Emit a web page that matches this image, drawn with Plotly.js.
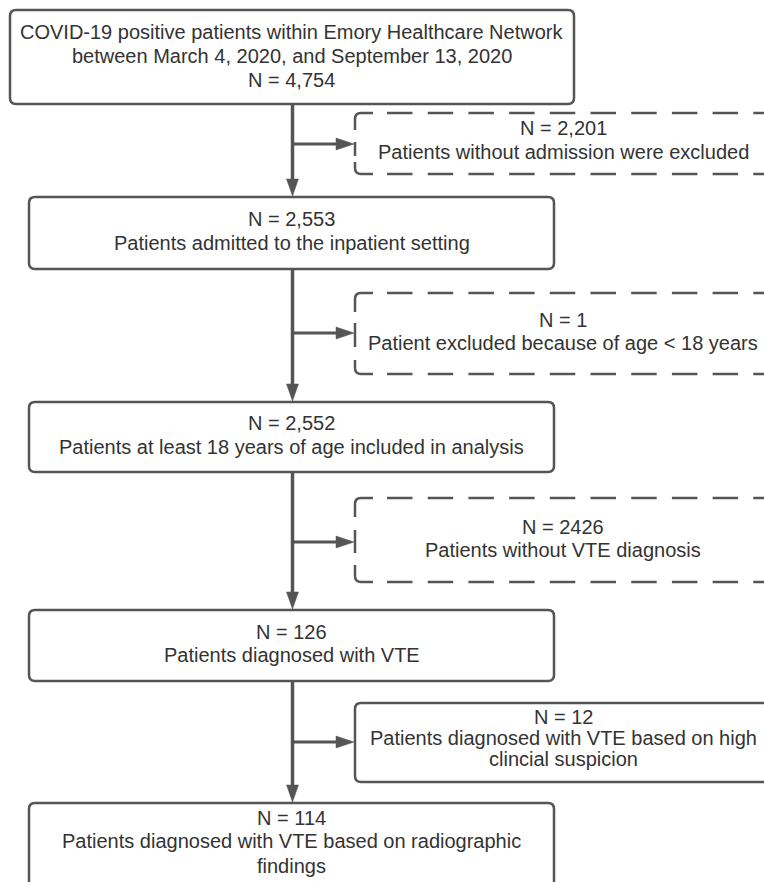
<!DOCTYPE html>
<html>
<head>
<meta charset="utf-8">
<script src="https://cdn.plot.ly/plotly-3.0.1.min.js"></script>
<style>
  html, body { margin: 0; padding: 0; background: #ffffff; }
  #chart { width: 764px; height: 882px; }
</style>
</head>
<body>
<div id="chart"></div>
<script>
// ---- Flowchart content (text of each box, top to bottom) ----
const mainBoxLines = [
  ["COVID-19 positive patients within Emory Healthcare Network",
   "between March 4, 2020, and September 13, 2020",
   "N = 4,754"],
  ["N = 2,553", "Patients admitted to the inpatient setting"],
  ["N = 2,552", "Patients at least 18 years of age included in analysis"],
  ["N = 126", "Patients diagnosed with VTE"],
  ["N = 114", "Patients diagnosed with VTE based on radiographic", "findings"]
];
const sideBoxLines = [
  ["N = 2,201", "Patients without admission were excluded"],
  ["N = 1", "Patient excluded because of age < 18 years"],
  ["N = 2426", "Patients without VTE diagnosis"],
  ["N = 12", "Patients diagnosed with VTE based on high", "clincial suspicion"]
];

// ---- Layout geometry (pixel space) ----
const W = 764, H = 882;
const LINE = "#555555", TEXT = "#333333";
const FONT = "Liberation Sans, Arial, Helvetica, sans-serif";
const spineX = 292.5;
const mainGeom = [
  {x0: 10, x1: 574, y0: 10,  y1: 104, lineY: [32, 56, 80]},
  {x0: 29, x1: 554, y0: 197, y1: 269, lineY: [219, 243]},
  {x0: 29, x1: 554, y0: 402, y1: 472, lineY: [423, 447]},
  {x0: 29, x1: 554, y0: 610, y1: 681, lineY: [632, 655]},
  {x0: 29, x1: 554, y0: 803, y1: 910, lineY: [818, 841, 866]}
];
const sideX0 = 355, sideX1 = 771, sideTextX = 563;
const sideGeom = [
  {y0: 113, y1: 174, arrowY: 144, dashed: true,  lineY: [128, 152], left: [[113, 130], [142, 156], [162, 174]]},
  {y0: 293, y1: 374, arrowY: 333, dashed: true,  lineY: [320, 343], left: [[293, 312], [323, 347], [360, 374]]},
  {y0: 498, y1: 582, arrowY: 542, dashed: true,  lineY: [527, 550], left: [[498, 517], [530, 553], [565, 582]]},
  {y0: 703, y1: 782, arrowY: 742, dashed: false, lineY: [717, 738, 759]}
];

function rr(x0, y0, x1, y1, r) {
  return `M ${x0 + r},${y0} L ${x1 - r},${y0} Q ${x1},${y0} ${x1},${y0 + r} ` +
         `L ${x1},${y1 - r} Q ${x1},${y1} ${x1 - r},${y1} L ${x0 + r},${y1} ` +
         `Q ${x0},${y1} ${x0},${y1 - r} L ${x0},${y0 + r} Q ${x0},${y0} ${x0 + r},${y0} Z`;
}

const shapes = [];
const annotations = [];
const R = 6;

function addPath(path, width, fill, dash) {
  const s = {type: "path", xref: "x", yref: "y", path: path,
             line: {color: LINE, width: width, dash: dash || "solid"}};
  if (fill) { s.fillcolor = fill; }
  shapes.push(s);
}
function addLine(x0, y0, x1, y1, width, dash) {
  shapes.push({type: "line", xref: "x", yref: "y", x0: x0, y0: y0, x1: x1, y1: y1,
               line: {color: LINE, width: width, dash: dash || "solid"}});
}
function addText(x, y, t) {
  annotations.push({x: x, y: y, xref: "x", yref: "y", text: t, showarrow: false,
                    xanchor: "center", yanchor: "middle",
                    font: {family: FONT, size: 20, color: TEXT}});
}

// main boxes
mainGeom.forEach((g, i) => {
  addPath(rr(g.x0, g.y0, g.x1, g.y1, R), 2.5, "rgba(0,0,0,0)");
  const cx = (g.x0 + g.x1) / 2 + (i === 0 ? -0.5 : 0);
  mainBoxLines[i].forEach((t, k) => addText(cx, g.lineY[k], t));
});

// spine with down arrows
for (let i = 0; i < mainGeom.length - 1; i++) {
  const tip = mainGeom[i + 1].y0 - 1;
  addLine(spineX, mainGeom[i].y1, spineX, tip - 10, 3.5);
  addPath(`M ${spineX - 6},${tip - 17} L ${spineX + 6},${tip - 17} L ${spineX},${tip} Z`, 0.5, LINE);
}

// side boxes with right arrows
sideGeom.forEach((g, i) => {
  const tip = sideX0 - 1;
  addLine(spineX, g.arrowY, tip - 10, g.arrowY, 3);
  addPath(`M ${tip - 18},${g.arrowY - 6} L ${tip - 18},${g.arrowY + 6} L ${tip},${g.arrowY} Z`, 0.5, LINE);
  if (g.dashed) {
    const dash = "25.5px,15.2px";
    addLine(387, g.y0, sideX1, g.y0, 2.5, dash);
    addLine(387, g.y1, sideX1, g.y1, 2.5, dash);
    const [a, b, c] = g.left;
    addPath(`M 373,${g.y0} L ${sideX0 + R},${g.y0} Q ${sideX0},${g.y0} ${sideX0},${g.y0 + R} L ${sideX0},${a[1]}`, 2.5);
    addLine(sideX0, b[0], sideX0, b[1], 2.5);
    addPath(`M ${sideX0},${c[0]} L ${sideX0},${g.y1 - R} Q ${sideX0},${g.y1} ${sideX0 + R},${g.y1} L 373,${g.y1}`, 2.5);
  } else {
    addPath(rr(sideX0, g.y0, sideX1, g.y1, R), 2.5, "rgba(0,0,0,0)");
  }
  sideBoxLines[i].forEach((t, k) => addText(sideTextX, g.lineY[k], t));
});

const layout = {
  width: W, height: H,
  margin: {l: 0, r: 0, t: 0, b: 0, pad: 0},
  paper_bgcolor: "#ffffff", plot_bgcolor: "#ffffff",
  showlegend: false,
  xaxis: {range: [0, W], visible: false, fixedrange: true},
  yaxis: {range: [H, 0], visible: false, fixedrange: true},
  shapes: shapes,
  annotations: annotations
};

Plotly.newPlot("chart", [{x: [], y: [], type: "scatter", mode: "markers", hoverinfo: "skip"}],
               layout, {displayModeBar: false, staticPlot: true});
</script>
</body>
</html>
